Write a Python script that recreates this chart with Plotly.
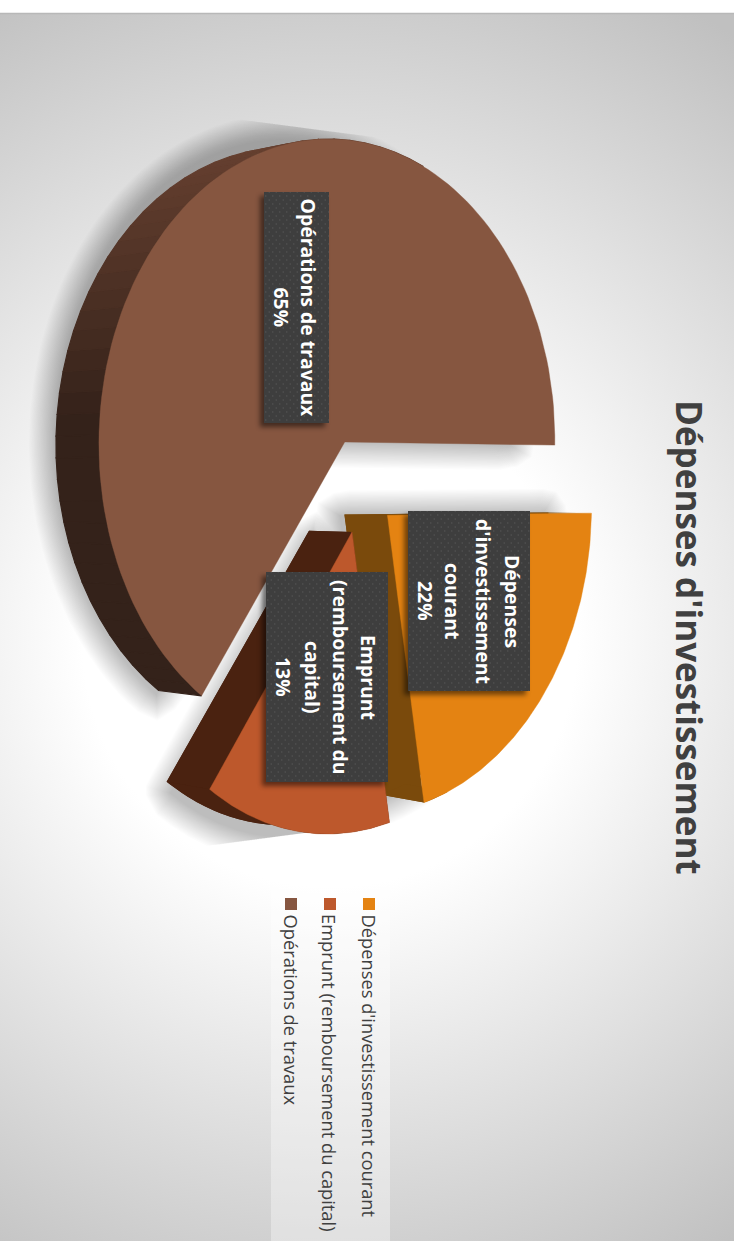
import base64
import numpy as np
import plotly.graph_objects as go

# Chart content
title = "Dépenses d'investissement"
categories = ["Dépenses d'investissement courant", "Emprunt (remboursement du capital)", "Opérations de travaux"]
values = [22, 13, 65]
label_lines = [["Dépenses", "d'investissement", "courant"], ["Emprunt", "(remboursement du", "capital)"], ["Opérations de travaux"]]
face_colors = ["#E48312", "#BD582C", "#865640"]
wall_colors = ["#7A4A0C", "#4A2210", None]

W, H = 739, 1241
CX, CY, AX, AY, PERSP = 360.5, 485.0, 224.0, 300.0, 0.078
EXPLODE = 0.16
DEPTH_X, DEPTH_Y = -43.0, 0.025
SKEW = 0.014


def project(px, py, depth=0.0):
    """Tilted-disc projection of unit-pie coordinates; the page is turned a quarter clockwise."""
    den = 1 + PERSP * px
    dy = AY * py / den
    x = CX + AX * px / den - SKEW * dy + DEPTH_X * depth
    y = CY + dy * (1 - DEPTH_Y * depth)
    return x, y


total = sum(values)
spans = []
start = 0.0
for v in values:
    end = start + 2 * np.pi * v / total
    spans.append((start, end))
    start = end


def arc(span, n=120, radius=1.0):
    th0, th1 = span
    mid = (th0 + th1) / 2
    th = np.linspace(th0, th1, n)
    return EXPLODE * np.cos(mid) + radius * np.cos(th), EXPLODE * np.sin(mid) + radius * np.sin(th), th


def apex(span):
    mid = (span[0] + span[1]) / 2
    return EXPLODE * np.cos(mid), EXPLODE * np.sin(mid)


def wedge_outline(span, depth=0.0, radius=1.0):
    ax_, ay_ = apex(span)
    px, py, _ = arc(span, radius=radius)
    x, y = project(px, py, depth)
    ox, oy = project(ax_, ay_, depth)
    # densify the two straight edges so the outline can be offset evenly
    t = np.linspace(0, 1, 40)[:-1]
    x_in, y_in = ox + (x[0] - ox) * t, oy + (y[0] - oy) * t
    x_out, y_out = x[-1] + (ox - x[-1]) * t[1:], y[-1] + (oy - y[-1]) * t[1:]
    return np.r_[x_in, x, x_out], np.r_[y_in, y, y_out]


def offset_outline(x, y, d):
    dx = np.roll(x, -2) - np.roll(x, 2)
    dy = np.roll(y, -2) - np.roll(y, 2)
    ln = np.hypot(dx, dy) + 1e-9
    nx, ny = dy / ln, -dx / ln
    # outward normal is chosen from the polygon's signed area
    area = 0.5 * np.sum(x * np.roll(y, -1) - np.roll(x, -1) * y)
    sign = 1 if area > 0 else -1
    return x + sign * nx * d, y + sign * ny * d


fig = go.Figure()


def poly(x, y, color, edge=0.0):
    fig.add_trace(go.Scatter(x=np.r_[x, x[0]], y=np.r_[y, y[0]], mode="lines", fill="toself",
                             fillcolor=color, line=dict(width=edge, color=color),
                             hoverinfo="skip", showlegend=False))


def side_quad(p0, p1, color):
    a0, a1 = project(*p0, 0), project(*p1, 0)
    b1, b0 = project(*p1, 1), project(*p0, 1)
    poly(np.array([a0[0], a1[0], b1[0], b0[0]]), np.array([a0[1], a1[1], b1[1], b0[1]]), color)


# Soft shadows: a stack of faint outlines growing past the wedge edge
shadow_shift = [(-48, 0), (-40, 4), (-45, 0)]
for idx, span in enumerate(spans):
    sx, sy = wedge_outline(span)
    sx, sy = sx + shadow_shift[idx][0], sy + shadow_shift[idx][1]
    for d in np.linspace(0, 25, 22):
        ox, oy = offset_outline(sx, sy, d)
        if idx == 2:
            # shadow stops on a straight line above the large slice
            oy = np.maximum(oy, 115 + (ox - 207) * 20 / 153)
        if idx == 1:
            oy = np.minimum(oy, 847 - (ox - 203) * 14 / 104)
        poly(ox, oy, "rgba(0,0,0,0.0135)")

# Extruded walls; the large slice darkens towards the middle of its rim
draw_order = [2, 0, 1]
for idx in draw_order:
    span = spans[idx]
    if wall_colors[idx] is not None:
        col = wall_colors[idx]
        bx, by = wedge_outline(span, depth=1.0)
        poly(bx, by, col)
        px, py, th = arc(span)
        ctr = apex(span)
        side_quad(ctr, (px[0], py[0]), col)
        side_quad(ctr, (px[-1], py[-1]), col)
        keep = np.cos(th) < 0.3
        tx, ty = project(px[keep], py[keep], 0)
        dx_, dy_ = project(px[keep], py[keep], 1)
        if keep.sum() > 1:
            poly(np.r_[tx, dx_[::-1]], np.r_[ty, dy_[::-1]], col)
    else:
        px, py, th = arc(span, n=61)
        for i in range(60):
            if np.cos(th[i]) > 0.3:
                continue
            xs = np.array([project(px[i], py[i], 0)[0], project(px[i + 1], py[i + 1], 0)[0],
                           project(px[i + 1], py[i + 1], 1)[0], project(px[i], py[i], 1)[0]])
            ys = np.array([project(px[i], py[i], 0)[1], project(px[i + 1], py[i + 1], 0)[1],
                           project(px[i + 1], py[i + 1], 1)[1], project(px[i], py[i], 1)[1]])
            t = np.clip((ys.mean() - 150) / 270, 0, 1)
            c0, c1 = np.array([0x66, 0x40, 0x30]), np.array([0x34, 0x22, 0x1A])
            r, g, b = (c0 + (c1 - c0) * t).astype(int)
            poly(xs, ys, f"rgb({r},{g},{b})", edge=1.2)
    fx, fy = wedge_outline(span)
    poly(fx, fy, face_colors[idx], edge=0.4)


def svg_uri(svg):
    return "data:image/svg+xml;base64," + base64.b64encode(svg.encode()).decode()


# Card background with a centred radial fade
CARD_L, CARD_T, CARD_R, CARD_B = 0, 13, 734, 1267
bg_svg = f"""<svg xmlns="http://www.w3.org/2000/svg" width="{CARD_R-CARD_L}" height="{CARD_B-CARD_T}">
<defs><radialGradient id="g" gradientUnits="userSpaceOnUse" cx="330" cy="627" r="727">
<stop offset="0.34" stop-color="#ffffff"/><stop offset="1" stop-color="#c0c0c0"/></radialGradient></defs>
<rect width="100%" height="100%" fill="url(#g)"/></svg>"""
images = [dict(source=svg_uri(bg_svg), xref="x", yref="y", x=CARD_L, y=CARD_T, sizex=CARD_R - CARD_L,
               sizey=CARD_B - CARD_T, xanchor="left", yanchor="top", sizing="stretch", layer="below")]


def label_box(left, top, right, bottom):
    m = 14
    w, h = right - left, bottom - top
    svg = f"""<svg xmlns="http://www.w3.org/2000/svg" width="{w+2*m}" height="{h+2*m}">
<defs><filter id="b" x="-30%" y="-30%" width="160%" height="160%"><feGaussianBlur stdDeviation="2.6"/></filter>
<pattern id="p" width="7" height="8" patternUnits="userSpaceOnUse">
<rect width="7" height="8" fill="#3e3e3e"/>
<circle cx="1.75" cy="2" r="0.8" fill="#525252"/><circle cx="5.25" cy="6" r="0.8" fill="#525252"/></pattern></defs>
<rect x="{m-4}" y="{m+4}" width="{w}" height="{h}" fill="#000" opacity="0.5" filter="url(#b)"/>
<rect x="{m}" y="{m}" width="{w}" height="{h}" fill="url(#p)"/></svg>"""
    return dict(source=svg_uri(svg), xref="x", yref="y", x=left - m, y=top - m, sizex=w + 2 * m, sizey=h + 2 * m,
                xanchor="left", yanchor="top", sizing="stretch", layer="above")


# Label panels sit above the slices, in slice order
panels = [(408, 511, 530, 691), (266, 572, 388, 782), (264, 192, 329, 423)]
images += [label_box(*p) for p in panels]

annotations = []
FONT = "Open Sans"


def vtext(text, x, y, size, color, bold=False, anchor="center"):
    annotations.append(dict(text=f"<b>{text}</b>" if bold else text, x=x, y=y, xref="x", yref="y", showarrow=False,
                            textangle=90, xanchor="center", yanchor="middle" if anchor == "center" else "top",
                            font=dict(family=FONT, size=size, color=color), borderpad=0, borderwidth=0))


vtext(title, 690, 637, 35, "#404040", bold=True)

line_x = [[513, 484, 453, 426], [369, 341, 313, 284], [308, 281]]
for idx, p in enumerate(panels):
    mid_y = (p[1] + p[3]) / 2
    lines = label_lines[idx] + [f"{values[idx]}%"]
    for txt, lx in zip(lines, line_x[idx]):
        vtext(txt, lx, mid_y, 19.4, "#ffffff", bold=True)

# Legend panel, drawn by hand because its entries run down the page
shapes = [
    dict(type="rect", xref="x", yref="y", x0=271, x1=390, y0=886, y1=1241, fillcolor="rgba(255,255,255,0.35)", line=dict(width=0), layer="above"),
    dict(type="line", xref="x", yref="y", x0=0, x1=734, y0=13.5, y1=13.5, line=dict(color="#b8b8b8", width=1.5), layer="above"),
]
legend_x = [369, 330, 291]
for lx, name, col in zip(legend_x, categories, face_colors):
    shapes.append(dict(type="rect", xref="x", yref="y", x0=lx - 6, x1=lx + 6, y0=898, y1=910, fillcolor=col, line=dict(width=0), layer="above"))
    vtext(name, lx, 914, 18.3, "#404040", anchor="top")

fig.update_layout(
    width=W, height=H, margin=dict(l=0, r=0, t=0, b=0, pad=0, autoexpand=False),
    paper_bgcolor="#ffffff", plot_bgcolor="rgba(0,0,0,0)", showlegend=False, images=images,
    shapes=shapes, annotations=annotations, hovermode=False,
    xaxis=dict(range=[0, W], visible=False, fixedrange=True),
    yaxis=dict(range=[H, 0], visible=False, fixedrange=True),
)
fig.write_html("out.html", config=dict(displayModeBar=False))
